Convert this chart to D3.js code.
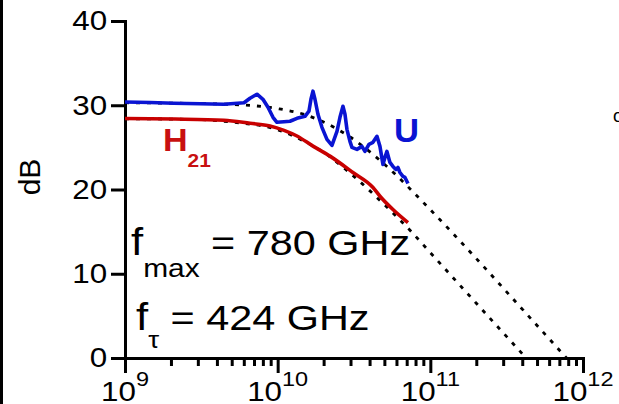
<!DOCTYPE html>
<html>
<head>
<meta charset="utf-8">
<script src="https://cdn.jsdelivr.net/npm/d3@7"></script>
<style>
  body { margin: 0; background: #fff; }
  svg { display: block; }
  text { font-family: "Liberation Sans", Arial, sans-serif; }
</style>
</head>
<body>
<div id="chart"></div>
<script>
// measured U (blue), GHz / dB
var uFreqGHz = [1.0, 1.46, 2.09, 3.10, 4.45, 6.02, 6.59, 7.32, 8.01, 8.64, 9.32, 9.89, 11.0, 12.04, 13.38, 15.10,
    16.03, 16.52, 17.03, 17.55, 18.36, 19.50, 21.03, 22.68, 24.46, 25.59, 26.77, 27.60, 28.43, 29.75, 30.66,
    33.06, 35.65, 37.30, 39.62, 42.09, 44.71, 46.77, 48.93, 50.43, 51.97, 54.37, 56.91, 59.54, 61.35, 63.23,
    66.15, 68.20, 71.35]
var uDb = [30.39, 30.32, 30.24, 30.18, 30.12, 30.30, 30.83, 31.31, 30.71, 29.76, 28.57, 27.98, 28.04, 28.10, 28.45, 28.69,
    29.29, 30.71, 31.67, 30.71, 28.93, 27.38, 25.95, 25.24, 26.90, 28.57, 29.88, 28.93, 27.14, 25.71, 25.00,
    24.76, 25.12, 24.52, 25.36, 25.60, 26.31, 25.12, 22.98, 23.81, 24.52, 23.21, 22.74, 22.38, 22.62, 22.02,
    21.55, 21.43, 20.71]

// measured H21 (red)
var h21FreqGHz = [1.0, 2.13, 4.45, 6.59, 8.91, 11.0, 13.38, 17.03, 22.0, 31.1, 42.1, 46.8, 56.9, 71.35]
var h21Db = [28.42, 28.36, 28.22, 27.86, 27.54, 27.02, 26.35, 25.15, 23.96, 22.02, 20.24, 19.20, 17.62, 16.07]

// dotted fits
var uFitFreqGHz = [1, 3, 5, 10, 15, 20, 30, 50, 100, 200, 400, 780]
var uFitDb = [30.3, 30.2, 30.1, 29.6, 28.9, 28.0, 26.2, 23.0, 17.6, 11.8, 5.8, 0]
var h21FitFreqGHz = [1, 3, 5, 10, 15, 20, 30, 50, 75, 100, 200, 424]
var h21FitDb = [28.4, 28.3, 28.0, 27.1, 25.7, 24.4, 21.9, 18.2, 15.0, 12.5, 6.5, 0]

var xTickExp = [9, 10, 11, 12]
var yTicks = [0, 10, 20, 30, 40]

var width = 619, height = 404
var sx = 1.12   // text in the source looks a little wide

var svg = d3.select("#chart").append("svg")
    .attr("width", width)
    .attr("height", height)

// black strip at left edge
svg.append("rect").attr("x", 0).attr("y", 0).attr("width", 3).attr("height", height).attr("fill", "#000")

var x = d3.scaleLog().domain([1e9, 1e12]).range([125, 583])
var y = d3.scaleLinear().domain([0, 40]).range([358, 21])

// y axis
var yAxis = svg.append("g")
    .attr("transform", "translate(125,0)")
    .call(d3.axisLeft(y).tickValues(yTicks).tickSize(14).tickPadding(2).tickFormat(d3.format("d")))
yAxis.select(".domain").attr("stroke-width", 3)
yAxis.selectAll(".tick line").attr("stroke-width", 3)
yAxis.selectAll(".tick text")
    .attr("font-size", 28)
    .attr("fill", "#000")
    .attr("transform", "scale(" + sx + ",1)")

// x axis: decades + minor ticks
var majors = xTickExp.map(function (e) { return Math.pow(10, e) })
var minors = []
xTickExp.slice(0, -1).forEach(function (e) {
    for (let k = 2; k < 10; k++) minors.push(k * Math.pow(10, e))
})

var xAxis = svg.append("g")
    .attr("transform", "translate(0,358)")
    .call(d3.axisBottom(x).tickValues(majors).tickSize(15).tickFormat(""))
xAxis.select(".domain").attr("stroke-width", 3)
xAxis.selectAll(".tick line").attr("stroke-width", 3)

var xMinor = svg.append("g")
    .attr("transform", "translate(0,358)")
    .call(d3.axisBottom(x).tickValues(minors).tickSize(8).tickFormat(""))
xMinor.select(".domain").remove()
xMinor.selectAll(".tick line").attr("stroke-width", 3)

// decade labels 10^n (cut by the bottom edge, as in the source)
var xl = svg.append("g").selectAll("text")
    .data(xTickExp)
    .enter().append("text")
    .attr("transform", function (d) { return "translate(" + x(Math.pow(10, d)) + ",401) scale(" + sx + ",1)" })
    .attr("text-anchor", "middle")
    .attr("font-size", 28)
xl.append("tspan").text("10")
xl.append("tspan").attr("dy", -15).attr("font-size", 21).text(function (d) { return d })

// y label
svg.append("text")
    .attr("transform", "translate(40,177) rotate(-90)")
    .attr("text-anchor", "middle")
    .attr("font-size", 30)
    .text("dB")

var line = d3.line()
    .x(function (d) { return x(d[0] * 1e9) })
    .y(function (d) { return y(d[1]) })

function pairs(fs, vs) { return fs.map(function (f, i) { return [f, vs[i]] }) }

// dotted fits
svg.append("path")
    .datum(pairs(uFitFreqGHz, uFitDb))
    .attr("d", line.curve(d3.curveMonotoneX))
    .attr("fill", "none").attr("stroke", "#000").attr("stroke-width", 2.8).attr("stroke-dasharray", "4,7")
svg.append("path")
    .datum(pairs(h21FitFreqGHz, h21FitDb))
    .attr("d", line.curve(d3.curveMonotoneX))
    .attr("fill", "none").attr("stroke", "#000").attr("stroke-width", 2.8).attr("stroke-dasharray", "4,7")

// data curves
svg.append("path")
    .datum(pairs(h21FreqGHz, h21Db))
    .attr("d", line.curve(d3.curveMonotoneX))
    .attr("fill", "none").attr("stroke", "#c80000").attr("stroke-width", 3.6)
svg.append("path")
    .datum(pairs(uFreqGHz, uDb))
    .attr("d", line.curve(d3.curveLinear))
    .attr("fill", "none").attr("stroke", "#0a14d2").attr("stroke-width", 3.6).attr("stroke-linejoin", "round")

// labels on curves
var h = svg.append("text")
    .attr("transform", "translate(163,151) scale(1.1,1)")
    .attr("fill", "#c81010").attr("font-weight", "bold").attr("font-size", 31)
h.append("tspan").text("H")
h.append("tspan").attr("dy", 16).attr("font-size", 19).text("21")

svg.append("text")
    .attr("transform", "translate(394,142) scale(1.05,1)")
    .attr("fill", "#0a14d2").attr("font-weight", "bold").attr("font-size", 33)
    .text("U")

// fmax / ftau annotations
var fm = svg.append("text")
    .attr("transform", "translate(131,255) scale(1.15,1)")
    .attr("font-size", 36)
fm.append("tspan").attr("font-size", 38).text("f")
fm.append("tspan").attr("dy", 22).attr("font-size", 26).text("max")
fm.append("tspan").attr("dy", -22).text(" = 780 GHz")

var ft = svg.append("text")
    .attr("transform", "translate(136,330) scale(1.15,1)")
    .attr("font-size", 36)
ft.append("tspan").attr("font-size", 38).text("f")
ft.append("tspan").attr("dy", 18).attr("font-size", 24).text("τ")
ft.append("tspan").attr("dy", -18).text(" = 424 GHz")

// clipped glyph at the right edge
svg.append("text").attr("x", 613).attr("y", 122).attr("font-size", 18).text("o")
</script>
</body>
</html>
